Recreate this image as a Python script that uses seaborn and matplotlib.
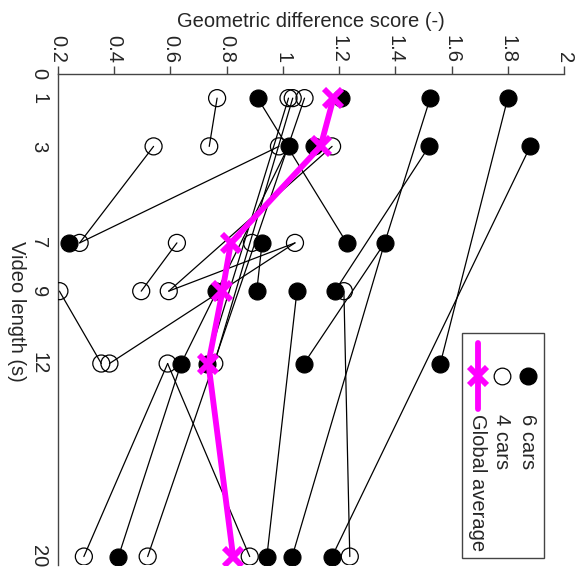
import numpy as np
import pandas as pd
import matplotlib
matplotlib.use("Agg")
import matplotlib.pyplot as plt
from matplotlib.lines import Line2D
from matplotlib.patches import Rectangle
import seaborn as sns

# ---------------- data ----------------
len_6cars = [1, 1, 1, 1, 3, 3, 3, 3, 7, 7, 7, 7, 9, 9, 9, 9, 12, 12, 12, 12, 20, 20, 20, 20]
score_6cars = [0.91, 1.205, 1.524, 1.80, 1.02, 1.11, 1.52, 1.88,
               0.24, 0.926, 1.227, 1.362, 0.762, 0.907, 1.05, 1.185,
               0.638, 0.73, 1.075, 1.56, 0.415, 0.943, 1.033, 1.175]
len_4cars = [1, 1, 1, 1, 3, 3, 3, 3, 7, 7, 7, 7, 9, 9, 9, 9, 12, 12, 12, 12, 20, 20, 20, 20]
score_4cars = [0.766, 1.02, 1.035, 1.077, 0.54, 0.738, 0.986, 1.175,
               0.277, 0.623, 0.89, 1.043, 0.205, 0.496, 0.594, 1.217,
               0.354, 0.383, 0.59, 0.756, 0.292, 0.519, 0.882, 1.238]
avg_len = [1, 3, 7, 9, 12, 20]
avg_score = [1.18, 1.134, 0.815, 0.785, 0.735, 0.823]

# connecting segments (same subject): start length, start score, end length, end score
seg_len_a = [1, 1, 1, 3, 3, 7, 7, 9, 7, 1, 3, 3, 7, 7, 7, 9, 9, 12, 20, 20, 1, 1, 1, 3, 3]
seg_score_a = [0.91, 1.524, 1.80, 1.88, 1.52, 1.362, 1.362, 1.05, 0.926, 0.766, 0.54, 0.986,
               0.623, 1.043, 1.043, 0.205, 1.217, 0.59, 0.292, 0.415, 1.02, 1.035, 1.077, 1.02, 1.175]
seg_len_b = [7, 7, 12, 20, 9, 12, 20, 20, 9, 3, 7, 7, 9, 9, 12, 12, 20, 20, 12, 12, 12, 12, 20, 12, 9]
seg_score_b = [1.227, 1.362, 1.56, 1.175, 1.185, 1.075, 1.033, 0.943, 0.907, 0.738, 0.277, 0.277,
               0.496, 0.594, 0.383, 0.354, 1.238, 0.882, 0.59, 0.638, 0.73, 0.756, 0.519, 0.638, 0.594]

x_ticks = [0.2, 0.4, 0.6, 0.8, 1, 1.2, 1.4, 1.6, 1.8, 2]
x_ticklabels = ["0.2", "0.4", "0.6", "0.8", "1", "1.2", "1.4", "1.6", "1.8", "2"]
y_ticks = [0, 1, 3, 7, 9, 12, 20]
y_ticklabels = ["0", "1", "3", "7", "9", "12", "20"]
legend_labels = ["6 cars", "4 cars", "Global average"]

# ---------------- figure ----------------
sns.set_style("white")
plt.rcParams["font.family"] = ["Liberation Sans", "DejaVu Sans"]
FS = 14.5

W, H = 583, 575
fig = plt.figure(figsize=(W / 100, H / 100), dpi=100)
ax = fig.add_axes([58 / W, 1 - 565 / H, (564 - 58) / W, (565 - 74) / H])

rows = []
for i in range(len(seg_len_a)):
    rows.append({"seg": i, "length": seg_len_a[i], "score": seg_score_a[i]})
    rows.append({"seg": i, "length": seg_len_b[i], "score": seg_score_b[i]})
seg_df = pd.DataFrame(rows)
sns.lineplot(data=seg_df, x="score", y="length", units="seg", estimator=None, sort=False,
             color="black", linewidth=0.9, ax=ax, legend=False, zorder=2)

df6 = pd.DataFrame({"score": score_6cars, "length": len_6cars})
df4 = pd.DataFrame({"score": score_4cars, "length": len_4cars})
sns.scatterplot(data=df6, x="score", y="length", marker="o", s=150, color="black",
                edgecolor="black", linewidth=0.8, ax=ax, zorder=3, legend=False)
sns.scatterplot(data=df4, x="score", y="length", marker="o", s=150, facecolor="none",
                edgecolor="black", linewidth=0.9, ax=ax, zorder=3, legend=False)

dfa = pd.DataFrame({"score": avg_score, "length": avg_len})
sns.lineplot(data=dfa, x="score", y="length", sort=False, estimator=None, color="#ff00ff",
             linewidth=4.2, marker="x", markersize=13, markeredgewidth=4.2,
             markeredgecolor="#ff00ff", ax=ax, zorder=4, legend=False)

ax.set_xlim(0.2, 2.0)
ax.set_ylim(20.35, 0)
ax.xaxis.tick_top()
ax.xaxis.set_label_position("top")
ax.set_xticks(x_ticks)
ax.set_xticklabels(x_ticklabels, rotation=-90, fontsize=FS)
ax.set_yticks(y_ticks)
ax.set_yticklabels(y_ticklabels, rotation=-90, fontsize=FS, va="center")
ax.tick_params(axis="x", direction="out", length=6, width=1, color="#444444", pad=2)
ax.tick_params(axis="y", direction="out", length=6, width=1, color="#444444", pad=1)
ax.set_xlabel("Geometric difference score (-)", fontsize=FS, labelpad=6)
ax.set_ylabel("Video length (s)", fontsize=FS, rotation=-90, va="center", ha="center")
ax.yaxis.set_label_coords((16 - 58) / (564 - 58), (565 - 311) / (565 - 74))
for s in ["right", "bottom"]:
    ax.spines[s].set_visible(False)
for s in ["left", "top"]:
    ax.spines[s].set_color("#444444")
    ax.spines[s].set_linewidth(1)
ax.grid(False)

# ---------------- rotated legend ----------------
def fx(px):
    return px / W

def fy(py):
    return 1 - py / H

fig.add_artist(Rectangle((fx(462), fy(558)), fx(544) - fx(462), fy(333) - fy(558),
                         transform=fig.transFigure, fill=False, edgecolor="#444444", linewidth=1))
fig.add_artist(Line2D([fx(528)], [fy(376)], transform=fig.transFigure, marker="o",
                      markersize=12, color="black", linestyle="none"))
fig.add_artist(Line2D([fx(502)], [fy(376)], transform=fig.transFigure, marker="o",
                      markersize=12, markerfacecolor="none", markeredgecolor="black",
                      markeredgewidth=0.9, linestyle="none"))
fig.add_artist(Line2D([fx(478), fx(478)], [fy(343), fy(409)], transform=fig.transFigure,
                      color="#ff00ff", linewidth=4.2))
fig.add_artist(Line2D([fx(478)], [fy(376)], transform=fig.transFigure, marker="x",
                      markersize=13, markeredgewidth=4.2, color="#ff00ff", linestyle="none"))
for xpix, lab in zip([528, 502, 478], legend_labels):
    fig.text(fx(xpix), fy(414), lab, rotation=-90, ha="center", va="top", fontsize=FS)

fig.savefig("out.png", dpi=100)
